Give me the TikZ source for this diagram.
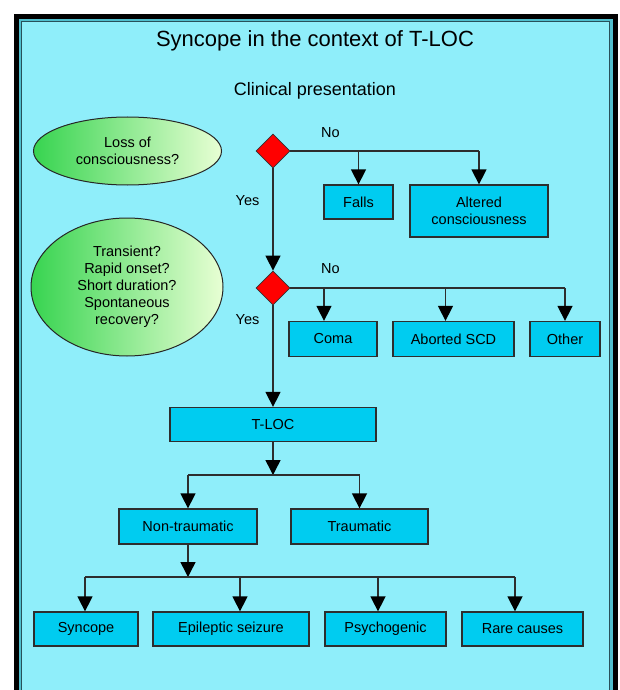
\documentclass[tikz,border=0pt]{standalone}
\usepackage{fontspec}
\setmainfont{Liberation Sans}
\usetikzlibrary{shapes.geometric,arrows.meta}
\definecolor{bg}{RGB}{143,238,250}
\definecolor{bandc}{RGB}{80,190,205}
\definecolor{innerc}{RGB}{40,80,90}
\definecolor{boxc}{RGB}{0,204,240}
\definecolor{linec}{RGB}{45,45,45}
\definecolor{egreen}{RGB}{55,212,80}
\definecolor{epale}{RGB}{232,255,212}
\begin{document}
\begin{tikzpicture}[x=1pt,y=-1pt,
  txt/.style={font=\fontsize{14.5}{17}\selectfont},
  box/.style={txt, draw=linec, line width=1.3pt, fill=boxc, inner sep=0pt, align=center},
  dia/.style={diamond, draw=black!80, line width=0.8pt, fill=red, minimum width=34pt, minimum height=34pt, inner sep=0pt},
  qell/.style={ellipse, txt, draw=black!85, line width=1pt, left color=egreen, right color=epale, inner sep=0pt, align=center},
  conn/.style={draw=linec, line width=1.5pt},
  arr/.style={conn, -{Triangle[width=15pt,length=15pt,color=black,fill=black]}},
  lbl/.style={txt, inner sep=0pt}
]
\fill[white] (0,0) rectangle (620,690);
\useasboundingbox (0,0) rectangle (620,690);
% frame
\fill[bandc] (16,16) rectangle (616,720);
\fill[bg] (22,22) rectangle (610,720);
\draw[black, line width=5pt] (16.5,16.5) rectangle (615.5,720);
\draw[innerc, line width=1pt] (21.5,21.5) rectangle (609.5,720);
% titles
\node[font=\fontsize{22}{26}\selectfont, anchor=base, inner sep=0pt] (title) at (315,47) {Syncope in the context of T-LOC};
\node[font=\fontsize{18}{22}\selectfont, anchor=base, inner sep=0pt] (sub) at (315,96) {Clinical presentation};
% questions
\node[qell, minimum width=188pt, minimum height=68pt] (e1) at (127.5,151) {Loss of\\consciousness?};
\node[qell, minimum width=192pt, minimum height=138pt] (e2) at (127,287) {Transient?\\Rapid onset?\\Short duration?\\Spontaneous\\recovery?};
% decisions
\node[dia] (d1) at (273,151) {};
\node[dia] (d2) at (273,288) {};
% boxes
\node[box, minimum width=69pt, minimum height=34pt] (Falls) at (358.5,202) {Falls};
\node[box, minimum width=138pt, minimum height=52pt] (Alt) at (479,211) {Altered\\consciousness};
\node[box, minimum width=88pt, minimum height=35pt] (Coma) at (333,339) {Coma};
\node[box, minimum width=121pt, minimum height=35pt] (Abort) at (453.5,339) {Aborted SCD};
\node[box, minimum width=70pt, minimum height=35pt] (Other) at (565,339) {Other};
\node[box, minimum width=206pt, minimum height=34pt] (TLOC) at (273,424.5) {T-LOC};
\node[box, minimum width=138pt, minimum height=35pt] (NT) at (188,526.5) {Non-traumatic};
\node[box, minimum width=137pt, minimum height=35pt] (Trau) at (359.5,526.5) {Traumatic};
\node[box, minimum width=104pt, minimum height=34pt] (Sync) at (86,629) {Syncope};
\node[box, minimum width=156pt, minimum height=34pt] (Epi) at (231,629) {Epileptic seizure};
\node[box, minimum width=121pt, minimum height=34pt] (Psy) at (385.5,629) {Psychogenic};
\node[box, minimum width=121pt, minimum height=34pt] (Rare) at (522.5,629) {Rare causes};
% labels
\node[lbl] (no1) at (330.5,133) {No};
\node[lbl] (no2) at (330.5,269) {No};
\node[lbl] (yes1) at (247.5,200.5) {Yes};
\node[lbl] (yes2) at (247.5,320) {Yes};
% connectors, first decision
\draw[conn] (d1.east) -- (d1.east -| Alt.north);
\draw[arr] (d1.east -| Falls.north) -- (Falls.north);
\draw[arr] (d1.east -| Alt.north) -- (Alt.north);
\draw[arr] (d1.south) -- (d2.north);
% second decision
\draw[conn] (d2.east) -- (d2.east -| Other.north);
\draw[arr] ([xshift=-9pt]Coma.north |- d2.east) -- ([xshift=-9pt]Coma.north);
\draw[arr] ([xshift=-8pt]Abort.north |- d2.east) -- ([xshift=-8pt]Abort.north);
\draw[arr] (d2.east -| Other.north) -- (Other.north);
\draw[arr] (d2.south) -- (TLOC.north);
% T-LOC split
\coordinate (j1) at (273,475);
\draw[arr] (TLOC.south) -- (j1);
\draw[conn] (j1 -| NT.north) -- (j1 -| Trau.north);
\draw[arr] (j1 -| NT.north) -- (NT.north);
\draw[arr] (j1 -| Trau.north) -- (Trau.north);
% Non-traumatic split
\coordinate (j2) at (188,577);
\draw[arr] (NT.south) -- (j2);
\draw[conn] ([xshift=-1pt]Sync.north |- j2) -- ([xshift=-7.5pt]Rare.north |- j2);
\draw[arr] ([xshift=-1pt]Sync.north |- j2) -- ([xshift=-1pt]Sync.north);
\draw[arr] ([xshift=9pt]Epi.north |- j2) -- ([xshift=9pt]Epi.north);
\draw[arr] ([xshift=-7.5pt]Psy.north |- j2) -- ([xshift=-7.5pt]Psy.north);
\draw[arr] ([xshift=-7.5pt]Rare.north |- j2) -- ([xshift=-7.5pt]Rare.north);
\end{tikzpicture}
\end{document}
